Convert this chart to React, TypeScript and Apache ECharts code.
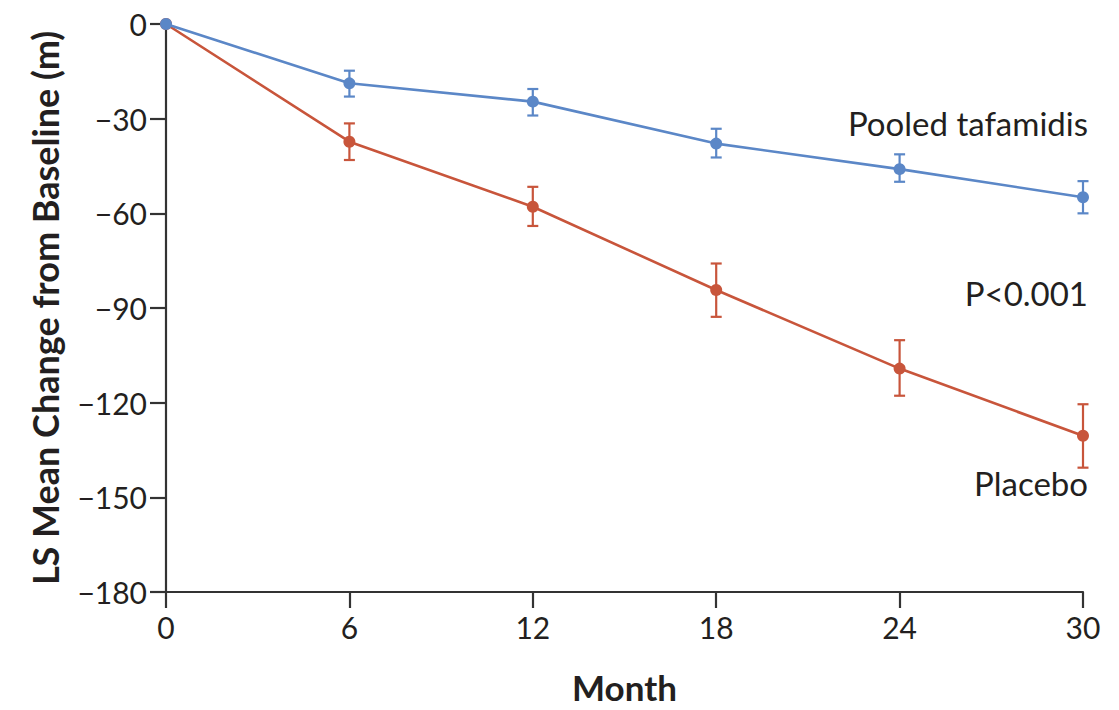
import React, { useEffect, useRef } from "react";
import * as echarts from "echarts";

const months = [0, 6, 12, 18, 24, 30];
const tafamidisMean = [0, -18.8, -24.6, -37.9, -46.0, -54.9];
const tafamidisLow = [0, -23.0, -29.0, -42.3, -50.0, -60.0];
const tafamidisHigh = [0, -14.8, -20.6, -33.2, -41.3, -49.8];
const placeboMean = [0, -37.3, -57.9, -84.3, -109.2, -130.5];
const placeboLow = [0, -43.1, -64.0, -92.8, -117.8, -140.6];
const placeboHigh = [0, -31.5, -51.6, -75.9, -100.2, -120.5];
const yTicks = [0, -30, -60, -90, -120, -150, -180];

const BLUE = "#5b87c7";
const RED = "#c8553b";
const TEXT = "#231f20";
const FONT = "Lato, 'Noto Sans', sans-serif";

function errorSeries(name: string, low: number[], high: number[], color: string) {
  const data = months
    .map((m, i) => [m, low[i], high[i]])
    .filter((d) => d[1] !== d[2]);
  return {
    type: "custom",
    name,
    data,
    z: 3,
    renderItem: (params: any, api: any) => {
      const x = api.value(0);
      const lo = api.coord([x, api.value(1)]);
      const hi = api.coord([x, api.value(2)]);
      const cap = 5.5;
      const style = { stroke: color, lineWidth: 2.2 };
      return {
        type: "group",
        children: [
          { type: "line", shape: { x1: lo[0], y1: lo[1], x2: hi[0], y2: hi[1] }, style },
          { type: "line", shape: { x1: lo[0] - cap, y1: lo[1], x2: lo[0] + cap, y2: lo[1] }, style },
          { type: "line", shape: { x1: hi[0] - cap, y1: hi[1], x2: hi[0] + cap, y2: hi[1] }, style },
        ],
      };
    },
  };
}

export default function App() {
  const ref = useRef<HTMLDivElement>(null);
  useEffect(() => {
    if (!ref.current) return;
    const chart = echarts.init(ref.current, undefined, { renderer: "svg" });
    const axisLine = { show: true, onZero: false, lineStyle: { color: "#333", width: 2.2 } };
    chart.setOption({
      animation: false,
      backgroundColor: "#fff",
      textStyle: { fontFamily: FONT },
      grid: { left: 166, right: 36, top: 24, bottom: 118, containLabel: false },
      xAxis: {
        type: "value",
        min: 0,
        max: 30,
        interval: 6,
        name: "Month",
        nameLocation: "middle",
        nameGap: 77,
        nameTextStyle: { fontFamily: FONT, fontWeight: "bold", fontSize: 35, color: TEXT },
        axisLine,
        axisTick: { show: true, inside: false, length: 16, lineStyle: { color: "#333", width: 2.2 } },
        axisLabel: { margin: 20, fontSize: 30, color: TEXT, fontFamily: FONT },
        splitLine: { show: false },
      },
      yAxis: {
        type: "value",
        min: -180,
        max: 0,
        interval: 30,
        name: "LS Mean Change from Baseline (m)",
        nameLocation: "middle",
        nameGap: 103,
        nameTextStyle: { fontFamily: FONT, fontWeight: "bold", fontSize: 36, color: TEXT },
        axisLine,
        axisTick: { show: true, inside: false, length: 16, lineStyle: { color: "#333", width: 2.2 } },
        axisLabel: {
          margin: 19,
          fontSize: 30,
          color: TEXT,
          fontFamily: FONT,
          formatter: (v: number) => (yTicks.includes(v) ? String(v).replace("-", "\u2212") : ""),
        },
        splitLine: { show: false },
      },
      series: [
        errorSeries("Placebo error", placeboLow, placeboHigh, RED),
        errorSeries("Tafamidis error", tafamidisLow, tafamidisHigh, BLUE),
        {
          type: "line",
          name: "Placebo",
          data: months.map((m, i) => [m, placeboMean[i]]),
          symbol: "circle",
          symbolSize: 12,
          lineStyle: { color: RED, width: 2.6 },
          itemStyle: { color: RED },
          z: 4,
        },
        {
          type: "line",
          name: "Pooled tafamidis",
          data: months.map((m, i) => [m, tafamidisMean[i]]),
          symbol: "circle",
          symbolSize: 12,
          lineStyle: { color: BLUE, width: 2.6 },
          itemStyle: { color: BLUE },
          z: 5,
        },
      ],
      graphic: [
        {
          type: "text",
          right: 31,
          top: 106,
          style: { text: "Pooled tafamidis", font: `33px ${FONT}`, fill: TEXT },
        },
        {
          type: "text",
          right: 31,
          top: 276,
          style: { text: "P<0.001", font: `33px ${FONT}`, fill: TEXT },
        },
        {
          type: "text",
          right: 31,
          top: 466,
          style: { text: "Placebo", font: `33px ${FONT}`, fill: TEXT },
        },
      ],
    });
    return () => chart.dispose();
  }, []);
  return <div ref={ref} style={{ width: 1119, height: 710, position: "absolute", left: 0, top: 0 }} />;
}
